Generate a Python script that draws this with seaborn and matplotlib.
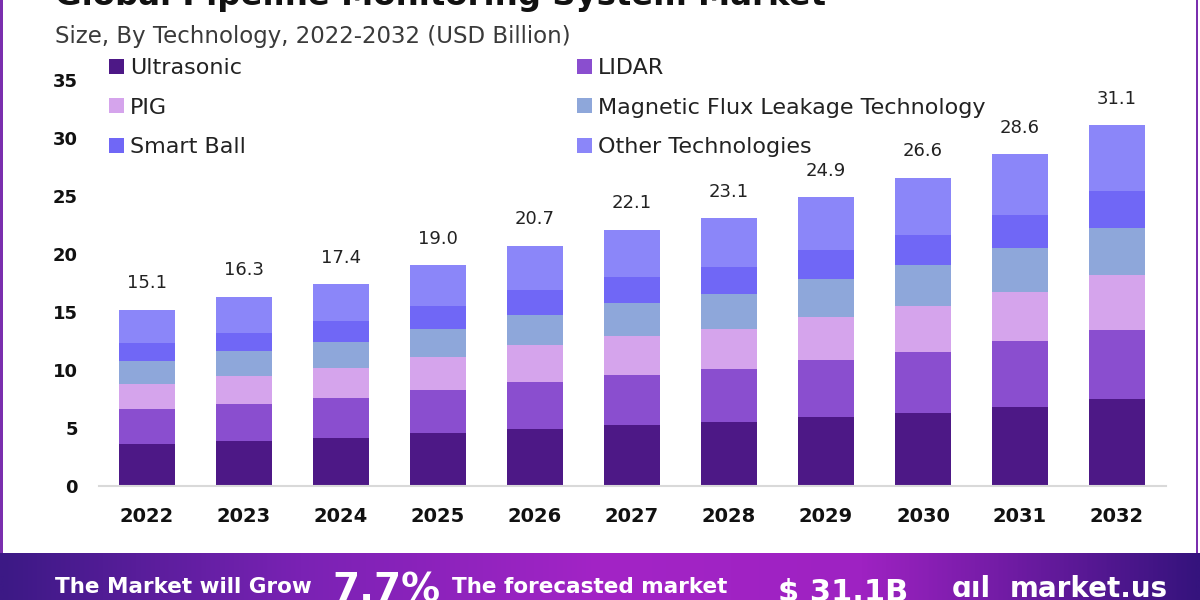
import numpy as np
import pandas as pd
import matplotlib
matplotlib.use("Agg")
import matplotlib.pyplot as plt
import seaborn as sns
from matplotlib.patches import Patch, Rectangle
from matplotlib.colors import LinearSegmentedColormap

# ---------------- data ----------------
years = ['2022', '2023', '2024', '2025', '2026', '2027', '2028', '2029', '2030', '2031', '2032']
ultrasonic = [3.65, 3.91, 4.17, 4.60, 4.89, 5.26, 5.50, 5.93, 6.32, 6.84, 7.48]
lidar = [2.97, 3.14, 3.40, 3.71, 4.08, 4.31, 4.60, 4.94, 5.21, 5.66, 5.97]
pig = [2.18, 2.44, 2.64, 2.82, 3.19, 3.36, 3.42, 3.73, 4.02, 4.20, 4.74]
mfl = [1.98, 2.16, 2.19, 2.44, 2.61, 2.87, 3.04, 3.25, 3.51, 3.79, 4.03]
smart_ball = [1.53, 1.58, 1.81, 1.96, 2.13, 2.24, 2.30, 2.50, 2.59, 2.87, 3.22]
other_tech = [2.88, 3.08, 3.19, 3.48, 3.80, 4.06, 4.24, 4.55, 4.94, 5.24, 5.66]
total_labels = ['15.1', '16.3', '17.4', '19.0', '20.7', '22.1', '23.1', '24.9', '26.6', '28.6', '31.1']

series_names = ['Ultrasonic', 'LIDAR', 'PIG', 'Magnetic Flux Leakage Technology', 'Smart Ball', 'Other Technologies']
series_values = [ultrasonic, lidar, pig, mfl, smart_ball, other_tech]
series_colors = ['#4d1886', '#8a4ecf', '#d5a4ec', '#8ea7da', '#7067f6', '#8b86f9']

yticks = [0, 5, 10, 15, 20, 25, 30, 35]

title = 'Global Pipeline Monitoring System Market'
subtitle = 'Size, By Technology, 2022-2032 (USD Billion)'

# ---------------- style ----------------
sns.set_theme(style='white')
plt.rcParams['font.family'] = ['DejaVu Sans']

W, H = 1200, 600
fig = plt.figure(figsize=(12, 6), dpi=100)
fig.patch.set_facecolor('white')

# axes placement (pixels -> fraction)
ax_left, ax_right = 98.5, 1165.5
ax_bottom_px = 486
ymax = 37
px_per_unit = 11.6
ax_top_px = ax_bottom_px - ymax * px_per_unit
ax = fig.add_axes([ax_left / W, (H - ax_bottom_px) / H,
                   (ax_right - ax_left) / W, (ax_bottom_px - ax_top_px) / H])

# stacked bars: draw cumulative heights from top series down
df = pd.DataFrame({name: vals for name, vals in zip(series_names, series_values)}, index=years)
cum = df.cumsum(axis=1)
for name, color in reversed(list(zip(series_names, series_colors))):
    sns.barplot(x=years, y=cum[name].values, color=color, saturation=1,
                width=0.57, errorbar=None, ax=ax, linewidth=0)

totals = df.sum(axis=1).values
for i, lab in enumerate(total_labels):
    ax.annotate(lab, (i, totals[i]), xytext=(0, 19), textcoords='offset points',
                ha='center', va='center', fontsize=13, color='#222222')

ax.set_xlim(-0.5, len(years) - 0.5)
ax.set_ylim(0, ymax)
ax.set_yticks(yticks)
ax.set_yticklabels([str(t) for t in yticks], fontsize=13, fontweight='bold', color='#111111')
ax.tick_params(axis='y', length=0, pad=15)
ax.tick_params(axis='x', length=0, pad=15)
for lbl in ax.get_xticklabels():
    lbl.set_fontsize(14)
    lbl.set_fontweight('bold')
    lbl.set_color('#111111')
for s in ['top', 'right', 'left']:
    ax.spines[s].set_visible(False)
ax.spines['bottom'].set_color('#d9d9d9')
ax.spines['bottom'].set_linewidth(1.5)
ax.set_xlabel('')
ax.set_ylabel('')
ax.set_facecolor('none')

# legend in two columns (row-major order as in reference)
handles = [Patch(facecolor=c, edgecolor='none') for c in series_colors]
col1 = [0, 2, 4]
col2 = [1, 3, 5]
leg_kw = dict(frameon=False, fontsize=16, handlelength=0.68, handleheight=0.68,
              handletextpad=0.28, labelspacing=0.88, borderpad=0, borderaxespad=0,
              loc='upper left', labelcolor='#222222')
leg1 = ax.legend([handles[i] for i in col1], [series_names[i] for i in col1],
                 bbox_to_anchor=(109 / W, 1 - 58 / H), bbox_transform=fig.transFigure, **leg_kw)
ax.add_artist(leg1)
ax.legend([handles[i] for i in col2], [series_names[i] for i in col2],
          bbox_to_anchor=(577 / W, 1 - 58 / H), bbox_transform=fig.transFigure, **leg_kw)

# titles
fig.text(55 / W, 1 - 5 / H, title, fontsize=23.3, fontweight='bold', color='#111111',
         ha='left', va='baseline')
fig.text(55 / W, 1 - 36 / H, subtitle, fontsize=16.5, color='#3a3a3a',
         ha='left', va='center')

# side borders
fig.add_artist(Rectangle((0, 47 / H), 3 / W, 1, transform=fig.transFigure,
                         facecolor='#7a2fae', edgecolor='none'))
fig.add_artist(Rectangle((1196 / W, 47 / H), 2 / W, 1, transform=fig.transFigure,
                         facecolor='#7a2fae', edgecolor='none'))

# bottom banner with gradient
bax = fig.add_axes([0, 0, 1, 47 / H])
cmap = LinearSegmentedColormap.from_list('banner', [
    (0.0, '#3c1985'), (0.25, '#7a22b4'), (0.5, '#a324c6'), (0.72, '#9e22c2'), (1.0, '#35137d')])
grad = np.linspace(0, 1, 512).reshape(1, -1)
bax.imshow(grad, aspect='auto', cmap=cmap, extent=[0, 1, 0, 1])
bax.set_xlim(0, 1)
bax.set_ylim(0, 1)
bax.axis('off')

fig.text(55 / W, 1 - 593 / H, 'The Market will Grow', fontsize=15.5, fontweight='bold',
         color='white', ha='left', va='baseline')
fig.text(332 / W, 1 - 601 / H, '7.7%', fontsize=28, fontweight='bold',
         color='white', ha='left', va='baseline')
fig.text(452 / W, 1 - 593 / H, 'The forecasted market', fontsize=15.5, fontweight='bold',
         color='white', ha='left', va='baseline')
fig.text(778 / W, 1 - 601 / H, '$ 31.1B', fontsize=22, fontweight='bold',
         color='white', ha='left', va='baseline')
fig.text(952 / W, 1 - 597 / H, 'ɑıl', fontsize=20, fontweight='bold',
         color='white', ha='left', va='baseline')
fig.text(1010 / W, 1 - 597 / H, 'market.us', fontsize=20, fontweight='bold',
         color='white', ha='left', va='baseline')

fig.savefig('out.png', dpi=100)
